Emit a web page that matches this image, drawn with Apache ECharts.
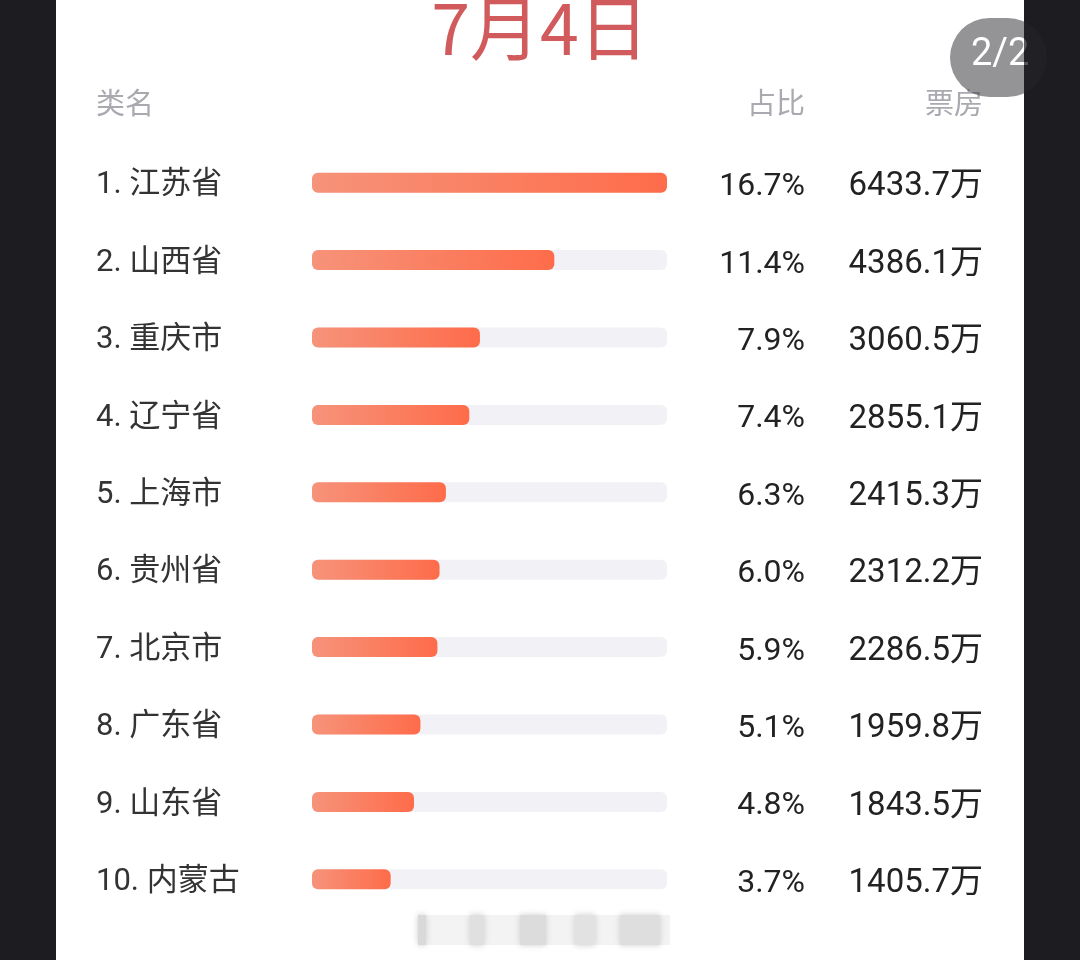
<!DOCTYPE html>
<html>
<head>
<meta charset="utf-8">
<script src="https://cdn.jsdelivr.net/npm/echarts@6/dist/echarts.min.js"></script>
<style>
  html, body { margin: 0; padding: 0; background: #1d1c21; }
  #main { width: 1080px; height: 960px; }
</style>
</head>
<body>
<div id="main"></div>
<script>
// 7月4日 各省票房
var names = ['1. 江苏省', '2. 山西省', '3. 重庆市', '4. 辽宁省', '5. 上海市',
  '6. 贵州省', '7. 北京市', '8. 广东省', '9. 山东省', '10. 内蒙古'];
var shares = [16.7, 11.4, 7.9, 7.4, 6.3, 6.0, 5.9, 5.1, 4.8, 3.7];
var boxOffice = ['6433.7万', '4386.1万', '3060.5万', '2855.1万', '2415.3万',
  '2312.2万', '2286.5万', '1959.8万', '1843.5万', '1405.7万'];

var shareLabels = shares.map(function (v) { return v.toFixed(1) + '%' });

var font = '"Noto Sans CJK SC", "Noto Sans", sans-serif';
var numFont = 'Roboto, "Noto Sans CJK SC", sans-serif';
var chart = echarts.init(document.getElementById('main'));

var option = {
  backgroundColor: '#1d1c21',
  animation: false,
  graphic: [
    { type: 'rect', z: -10, shape: { x: 56, y: 0, width: 968, height: 960 }, style: { fill: '#ffffff' } },
    {
      type: 'text', left: 'center', top: -7, z: 5,
      style: { text: '7月4日', fill: '#d05a5c', font: '70px ' + font }
    },
    { type: 'text', x: 96, y: 88, style: { text: '类名', fill: '#a9a9b0', font: '29px ' + font } },
    { type: 'text', x: 805, y: 88, style: { text: '占比', fill: '#a9a9b0', font: '29px ' + font, align: 'right' } },
    { type: 'text', x: 983, y: 88, style: { text: '票房', fill: '#a9a9b0', font: '29px ' + font, align: 'right' } },
    {
      type: 'rect', z: 20, shape: { x: 950, y: 18, width: 97, height: 79, r: 40 },
      style: { fill: 'rgba(60,60,65,0.55)' }
    },
    {
      type: 'text', z: 21, x: 971, y: 36,
      style: { text: '2/2', fill: '#ffffff', font: '38px ' + numFont }
    },
    { type: 'rect', z: 22, shape: { x: 1024, y: 0, width: 56, height: 960 }, style: { fill: 'rgba(29,28,33,0.75)' } },
    // 底部模糊水印
    { type: 'rect', shape: { x: 418, y: 915, width: 252, height: 30 }, style: { fill: '#f3f3f3' } },
    { type: 'rect', shape: { x: 418, y: 915, width: 8, height: 30 }, style: { fill: '#d9d9d9', shadowBlur: 6, shadowColor: '#ccc' } },
    { type: 'rect', shape: { x: 470, y: 915, width: 14, height: 30 }, style: { fill: '#e0e0e0', shadowBlur: 6, shadowColor: '#ccc' } },
    { type: 'rect', shape: { x: 520, y: 915, width: 26, height: 30 }, style: { fill: '#dcdcdc', shadowBlur: 6, shadowColor: '#ccc' } },
    { type: 'rect', shape: { x: 575, y: 915, width: 20, height: 30 }, style: { fill: '#e2e2e2', shadowBlur: 6, shadowColor: '#ccc' } },
    { type: 'rect', shape: { x: 620, y: 915, width: 40, height: 30 }, style: { fill: '#dedede', shadowBlur: 6, shadowColor: '#ccc' } }
  ],
  grid: {
    left: 312,
    right: 413,
    top: 144,
    height: 774
  },
  xAxis: {
    type: 'value',
    min: 0,
    max: 16.7,
    show: false
  },
  yAxis: [
    {
      type: 'category',
      inverse: true,
      data: names,
      axisLine: { show: false },
      axisTick: { show: false },
      axisLabel: {
        align: 'left',
        verticalAlign: 'top',
        lineHeight: 6,
        margin: 216,
        color: '#333333',
        fontSize: 31,
        fontFamily: numFont
      }
    },
    {
      type: 'category',
      inverse: true,
      position: 'right',
      data: shareLabels,
      axisLine: { show: false },
      axisTick: { show: false },
      axisLabel: {
        align: 'right',
        verticalAlign: 'top',
        lineHeight: 9,
        margin: 138,
        color: '#222222',
        fontSize: 32,
        fontFamily: numFont
      }
    },
    {
      type: 'category',
      inverse: true,
      position: 'right',
      data: boxOffice,
      axisLine: { show: false },
      axisTick: { show: false },
      axisLabel: {
        align: 'right',
        verticalAlign: 'top',
        lineHeight: 9,
        margin: 316,
        color: '#222222',
        fontSize: 33,
        fontFamily: numFont
      }
    }
  ],
  series: [
    {
      type: 'bar',
      data: shares,
      barWidth: 20,
      showBackground: true,
      backgroundStyle: {
        color: '#f2f2f6',
        borderRadius: 6
      },
      itemStyle: {
        borderRadius: 6,
        color: new echarts.graphic.LinearGradient(0, 0, 1, 0, [
          { offset: 0, color: '#f6937a' },
          { offset: 1, color: '#fe6c4a' }
        ])
      }
    }
  ]
};

chart.setOption(option);
</script>
</body>
</html>
